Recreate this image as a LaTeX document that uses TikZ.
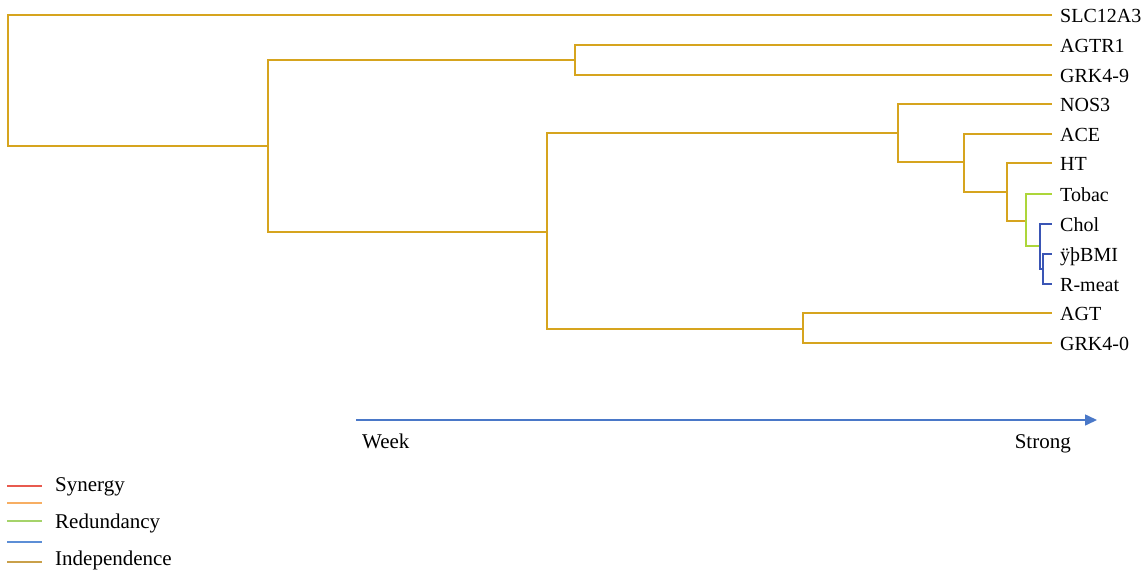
\documentclass[tikz,border=0pt]{standalone}
\usepackage{fontspec}
\setmainfont{Liberation Serif}
\usetikzlibrary{arrows.meta}
\definecolor{gold}{HTML}{D6A41E}
\definecolor{redgreen}{HTML}{ADD63A}
\definecolor{dblue}{HTML}{3A55B5}
\definecolor{arrblue}{HTML}{4A78C8}
\definecolor{lred}{HTML}{E85A4F}
\definecolor{lorange}{HTML}{F7AE63}
\definecolor{lgreen}{HTML}{A5D36A}
\definecolor{lblue}{HTML}{5C8ED6}
\definecolor{lgold}{HTML}{C9A04A}
\tikzset{
  branch/.style={line width=1.6pt, gold},
  gbranch/.style={line width=1.6pt, redgreen},
  bbranch/.style={line width=1.6pt, dblue},
  leaf/.style={anchor=west, inner xsep=8pt, inner ysep=0pt, text height=14pt, text depth=0pt, font=\fontsize{20}{24}\selectfont},
  lbl/.style={anchor=base west, inner sep=0pt, font=\fontsize{21}{25}\selectfont},
  legline/.style={line width=1.5pt},
}
\begin{document}
\begin{tikzpicture}[x=1pt,y=-1pt]
\useasboundingbox (0,0) rectangle (1145,573);
% leaves
\node[leaf] (SLC) at (1052,15) {SLC12A3};
\node[leaf] (AGTR) at (1052,45) {AGTR1};
\node[leaf] (GRK9) at (1052,75) {GRK4-9};
\node[leaf] (NOS) at (1052,104) {NOS3};
\node[leaf] (ACE) at (1052,134) {ACE};
\node[leaf] (HT) at (1052,163) {HT};
\node[leaf] (Tob) at (1052,194) {Tobac};
\node[leaf] (Chol) at (1052,224) {Chol};
\node[leaf] (BMI) at (1052,254) {ÿþBMI};
\node[leaf] (Rmeat) at (1052,284) {R-meat};
\node[leaf] (AGT) at (1052,313) {AGT};
\node[leaf] (GRK0) at (1052,343) {GRK4-0};
% internal nodes
\coordinate (r) at (8,80);
\coordinate (n1) at (268,146);
\coordinate (n2) at (575,60);
\coordinate (n3) at (547,232);
\coordinate (n4) at (898,133);
\coordinate (n5) at (803,329);
\coordinate (n6) at (964,162);
\coordinate (n7) at (1007,192);
\coordinate (n8) at (1026,221);
\coordinate (n9) at (1040,246);
\coordinate (n10) at (1043,269);
% gold branches
\draw[branch] (r) |- (SLC.west);
\draw[branch] (r) |- (n1);
\draw[branch] (n1) |- (n2);
\draw[branch] (n1) |- (n3);
\draw[branch] (n2) |- (AGTR.west);
\draw[branch] (n2) |- (GRK9.west);
\draw[branch] (n3) |- (n4);
\draw[branch] (n3) |- (n5);
\draw[branch] (n4) |- (NOS.west);
\draw[branch] (n4) |- (n6);
\draw[branch] (n6) |- (ACE.west);
\draw[branch] (n6) |- (n7);
\draw[branch] (n7) |- (HT.west);
\draw[branch] (n7) |- (n8);
\draw[branch] (n5) |- (AGT.west);
\draw[branch] (n5) |- (GRK0.west);
% green
\draw[gbranch] (n8) |- (Tob.west);
\draw[gbranch] (n8) |- (n9);
% blue
\draw[bbranch] (n9) |- (Chol.west);
\draw[bbranch] (n9) |- (n10);
\draw[bbranch] (n10) |- (BMI.west);
\draw[bbranch] (n10) |- (Rmeat.west);
% arrow
\coordinate (a0) at (356,420);
\coordinate (a1) at (1097,420);
\draw[arrblue, line width=1.5pt, -{Triangle[length=12pt,width=11pt]}] (a0) -- (a1);
\node[lbl] (week) at (362,448) {Week};
\node[lbl, anchor=base east] (strong) at (1071,448) {Strong};
% legend
\coordinate (l1a) at (7,486); \coordinate (l1b) at (42,486);
\coordinate (l2a) at (7,503); \coordinate (l2b) at (42,503);
\coordinate (l3a) at (7,521); \coordinate (l3b) at (42,521);
\coordinate (l4a) at (7,542); \coordinate (l4b) at (42,542);
\coordinate (l5a) at (7,562); \coordinate (l5b) at (42,562);
\draw[legline, lred] (l1a) -- (l1b);
\draw[legline, lorange] (l2a) -- (l2b);
\draw[legline, lgreen] (l3a) -- (l3b);
\draw[legline, lblue] (l4a) -- (l4b);
\draw[legline, lgold] (l5a) -- (l5b);
\node[lbl] (syn) at (55,491) {Synergy};
\node[lbl] (red) at (55,528) {Redundancy};
\node[lbl] (ind) at (55,565) {Independence};
\end{tikzpicture}
\end{document}
